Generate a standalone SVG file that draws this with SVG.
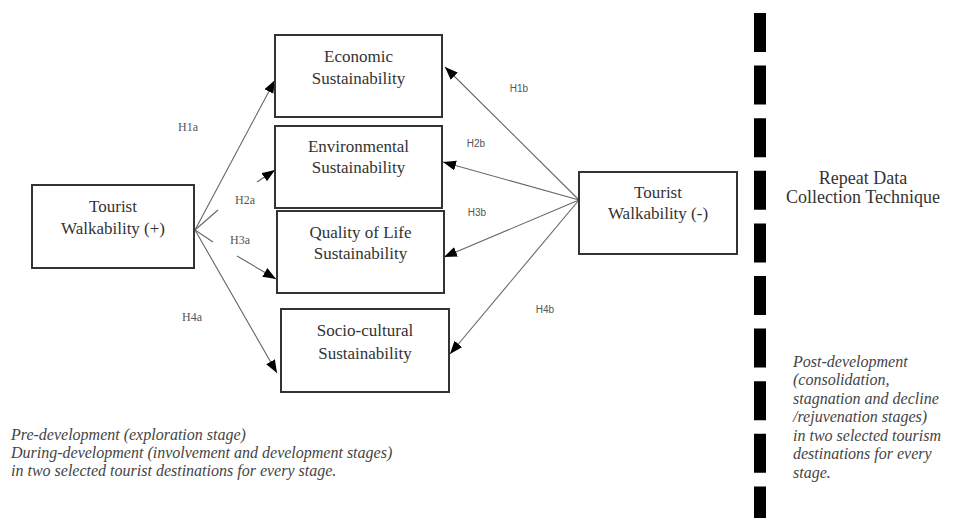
<svg xmlns="http://www.w3.org/2000/svg" width="955" height="518" viewBox="0 0 955 518">
<style>
.box{fill:#fff;stroke:#333;stroke-width:2}
.nt{font-family:"Liberation Serif","Times New Roman",serif;font-size:17px;fill:#333;text-anchor:middle}
.rt{font-family:"Liberation Serif","Times New Roman",serif;font-size:18px;fill:#333;text-anchor:middle}
.lbl{font-family:"Liberation Serif","Times New Roman",serif;font-size:12px;fill:#555;text-anchor:middle}
.lblb{font-family:"Liberation Sans",Arial,sans-serif;font-size:10px;fill:#555;text-anchor:middle}
.conn{stroke:#666;stroke-width:1.1;fill:none}
.note{font-family:"Liberation Serif","Times New Roman",serif;font-size:16px;font-style:italic;fill:#444}
</style>
<defs>
<marker id="ah" markerUnits="userSpaceOnUse" markerWidth="14" markerHeight="12" refX="13" refY="5" orient="auto">
<path d="M0,0 L13,5 L0,10 Z" fill="#000"/>
</marker>
</defs>
<rect width="955" height="518" fill="#fff"/>

<g id="connectors">
<path class="conn" d="M195,230 L275,80" marker-end="url(#ah)"/>
<path class="conn" d="M195,230 L218,210"/>
<path class="conn" d="M257,182 L275,170" marker-end="url(#ah)"/>
<path class="conn" d="M195,230 L213,242"/>
<path class="conn" d="M237,256 L276,279" marker-end="url(#ah)"/>
<path class="conn" d="M195,230 L277,373" marker-end="url(#ah)"/>
<path class="conn" d="M579,200 L445,67" marker-end="url(#ah)"/>
<path class="conn" d="M579,200 L443,162" marker-end="url(#ah)"/>
<path class="conn" d="M579,200 L444,257" marker-end="url(#ah)"/>
<path class="conn" d="M579,200 L450,354" marker-end="url(#ah)"/>
</g>

<g id="labels">
<text class="lbl" x="188" y="131">H1a</text>
<text class="lbl" x="245" y="204">H2a</text>
<text class="lbl" x="240" y="244">H3a</text>
<text class="lbl" x="192" y="321">H4a</text>
<text class="lblb" x="519" y="92">H1b</text>
<text class="lblb" x="476" y="147">H2b</text>
<text class="lblb" x="477" y="216">H3b</text>
<text class="lblb" x="545" y="313">H4b</text>
</g>

<g id="tw-plus">
<rect class="box" x="32" y="185" width="162" height="83"/>
<text class="nt" x="113" y="212">Tourist</text>
<text class="nt" x="113" y="234">Walkability (+)</text>
</g>

<g id="economic">
<rect class="box" x="275" y="35" width="167" height="82"/>
<text class="nt" x="358.5" y="62">Economic</text>
<text class="nt" x="358.5" y="84">Sustainability</text>
</g>

<g id="environmental">
<rect class="box" x="275" y="126" width="167" height="82"/>
<text class="nt" x="358.5" y="152">Environmental</text>
<text class="nt" x="358.5" y="173">Sustainability</text>
</g>

<g id="quality">
<rect class="box" x="277" y="211" width="167" height="82"/>
<text class="nt" x="360.5" y="238">Quality of Life</text>
<text class="nt" x="360.5" y="259">Sustainability</text>
</g>

<g id="socio">
<rect class="box" x="281" y="309" width="168" height="83"/>
<text class="nt" x="365" y="336">Socio-cultural</text>
<text class="nt" x="365" y="359">Sustainability</text>
</g>

<g id="tw-minus">
<rect class="box" x="579" y="172" width="158" height="82"/>
<text class="nt" x="658" y="198">Tourist</text>
<text class="nt" x="658" y="219">Walkability (-)</text>
</g>

<g id="divider">
<line x1="760" y1="13" x2="760" y2="518" stroke="#000" stroke-width="12" stroke-dasharray="39 13.6"/>
</g>

<g id="repeat">
<text class="rt" x="863" y="184">Repeat Data</text>
<text class="rt" x="863" y="203">Collection Technique</text>
</g>

<g id="pre-note">
<text class="note" x="11" y="440">Pre-development (exploration stage)</text>
<text class="note" x="11" y="458">During-development (involvement and development stages)</text>
<text class="note" x="11" y="476">in two selected tourist destinations for every stage.</text>
</g>

<g id="post-note">
<text class="note" x="793" y="367">Post-development</text>
<text class="note" x="793" y="385">(consolidation,</text>
<text class="note" x="793" y="404">stagnation and decline</text>
<text class="note" x="793" y="422">/rejuvenation stages)</text>
<text class="note" x="793" y="441">in two selected tourism</text>
<text class="note" x="793" y="459">destinations for every</text>
<text class="note" x="793" y="478">stage.</text>
</g>
</svg>
